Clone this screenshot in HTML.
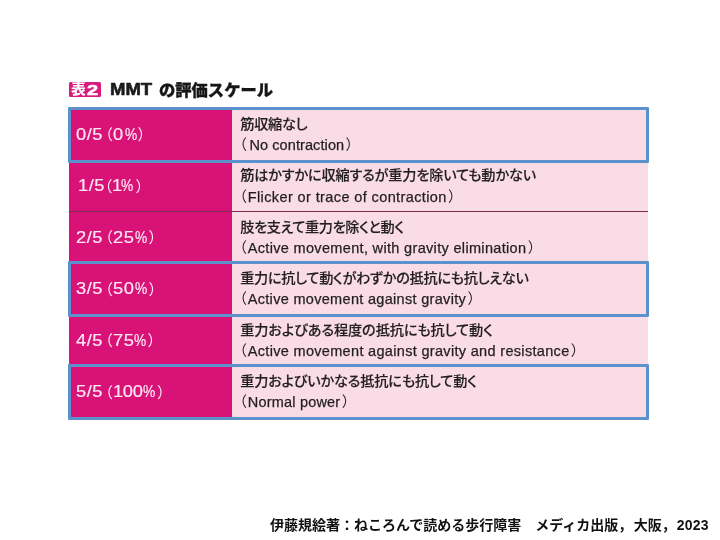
<!DOCTYPE html>
<html lang="ja">
<head>
<meta charset="utf-8">
<title>MMT の評価スケール</title>
<style>
html,body{margin:0;padding:0;background:#fff;}
body{width:720px;height:540px;position:relative;overflow:hidden;font-family:"Liberation Sans","Noto Sans CJK JP",sans-serif;color:#222;}
.abs{position:absolute;}
.badge{left:69px;top:82px;width:32px;height:15px;background:#d81b7c;border-radius:1.5px;color:#fff;}
.badge span{position:absolute;display:block;line-height:15px;white-space:nowrap;}
.b1{left:2.4px;top:-0.6px;font-family:"Noto Sans CJK JP",sans-serif;font-weight:900;font-size:13.2px;transform:scaleX(1.12);transform-origin:0 50%;}
.b2{left:17.5px;top:0px;font-weight:bold;font-size:15.5px;transform:scaleX(1.3);transform-origin:0 50%;-webkit-text-stroke:0.5px #fff;}
.t1{left:110px;top:80.2px;font-size:17px;line-height:20px;font-weight:bold;color:#1a1a1a;white-space:nowrap;letter-spacing:0px;-webkit-text-stroke:0.6px #1a1a1a;transform:scaleX(1.09);transform-origin:0 50%;}
.t2{left:159px;top:79px;font-family:"Noto Sans CJK JP",sans-serif;font-size:16.3px;line-height:20px;font-weight:900;color:#161616;white-space:nowrap;letter-spacing:0px;-webkit-text-stroke:0.3px #161616;}
.left{left:68.6px;top:108px;width:163.8px;height:311px;background:#d81277;}
.right{left:232.4px;top:108px;width:416px;height:311px;background:#f9dce6;}
.sep{left:69px;width:579px;height:1px;background:#7a2a50;}
.lab{left:0;width:232px;height:20px;color:#ffe9f3;-webkit-text-stroke:0.18px #ffe9f3;font-size:16.8px;line-height:20px;white-space:nowrap;}
.lab span{position:absolute;top:0;display:block;transform-origin:0 50%;}
.lab .d{transform:scaleX(1.09);letter-spacing:0.5px;}
.lab .pc{transform:scaleX(0.82);}
.lab .pp{font-size:15px;top:-0.5px;}
.jp{font-family:"Noto Sans CJK JP",sans-serif;font-weight:500;-webkit-text-stroke:0.15px #231f20;font-size:14.2px;line-height:20px;white-space:nowrap;color:#231f20;font-feature-settings:"palt";}
.en{-webkit-text-stroke:0.25px #231f20;font-size:14.5px;line-height:20px;white-space:nowrap;color:#231f20;}
.pp{font-family:"Noto Sans CJK JP",sans-serif;font-weight:400;-webkit-text-stroke:0;font-feature-settings:normal;letter-spacing:0;}
.en .pp{display:inline-block;width:.5em;text-indent:0;overflow:visible;}
.en .po{text-indent:-.5em;}
.lab .po{margin-left:-.5em;}
.box{border:3.3px solid #5c91cb;box-sizing:border-box;border-radius:1px;}
.foot{left:270px;top:515px;font-size:14px;line-height:20px;font-weight:bold;color:#111;white-space:nowrap;}
</style>
</head>
<body>
<div class="abs badge" id="badge"><span class="b1" id="b1">表</span><span class="b2" id="b2">2</span></div>
<div class="abs t1" id="t1">MMT</div>
<div class="abs t2" id="t2">の評価スケール</div>
<div class="abs left"></div>
<div class="abs right"></div>
<div class="abs sep" style="top:161px"></div>
<div class="abs sep" style="top:210.6px"></div>
<div class="abs sep" style="top:261.5px"></div>
<div class="abs sep" style="top:314.5px"></div>
<div class="abs sep" style="top:364.8px"></div>
<div class="abs lab" id="lab0" style="top:124.9px"><span class="d" style="left:75.9px">0/5</span><span class="pp po" style="left:105.6px">（</span><span class="d" style="left:112.5px;letter-spacing:0.5px">0</span><span class="pc" style="left:124.7px">%</span><span class="pp" style="left:137.4px">）</span></div>
<div class="abs lab" id="lab1" style="top:176.35px"><span class="d" style="left:77.5px">1/5</span><span class="pp po" style="left:104.9px">（</span><span class="d" style="left:112.4px;letter-spacing:0.5px">1</span><span class="pc" style="left:121.4px">%</span><span class="pp" style="left:135.4px">）</span></div>
<div class="abs lab" id="lab2" style="top:227.8px"><span class="d" style="left:75.9px">2/5</span><span class="pp po" style="left:105.6px">（</span><span class="d" style="left:112.5px;letter-spacing:0.5px">25</span><span class="pc" style="left:134.7px">%</span><span class="pp" style="left:148.4px">）</span></div>
<div class="abs lab" id="lab3" style="top:279.25px"><span class="d" style="left:75.9px">3/5</span><span class="pp po" style="left:105.6px">（</span><span class="d" style="left:112.5px;letter-spacing:0.5px">50</span><span class="pc" style="left:134.7px">%</span><span class="pp" style="left:148.4px">）</span></div>
<div class="abs lab" id="lab4" style="top:330.7px"><span class="d" style="left:75.9px">4/5</span><span class="pp po" style="left:105.6px">（</span><span class="d" style="left:112.5px;letter-spacing:0.5px">75</span><span class="pc" style="left:133.9px">%</span><span class="pp" style="left:147.4px">）</span></div>
<div class="abs lab" id="lab5" style="top:382.15px"><span class="d" style="left:75.9px">5/5</span><span class="pp po" style="left:105.6px">（</span><span class="d" style="left:113.2px;letter-spacing:-0.3px">100</span><span class="pc" style="left:143.0px">%</span><span class="pp" style="left:157.0px">）</span></div>
<div class="abs jp" id="jp0" style="left:240.25px;top:113.0px;letter-spacing:-0.3px">筋収縮なし</div>
<div class="abs jp" id="jp1" style="left:240.25px;top:164.45px;letter-spacing:-0.19px">筋はかすかに収縮するが重力を除いても動かない</div>
<div class="abs jp" id="jp2" style="left:240.25px;top:215.9px;letter-spacing:-0.38px">肢を支えて重力を除くと動く</div>
<div class="abs jp" id="jp3" style="left:240.25px;top:267.35px;letter-spacing:-0.32px">重力に抗して動くがわずかの抵抗にも抗しえない</div>
<div class="abs jp" id="jp4" style="left:240.25px;top:318.8px;letter-spacing:-0.12px">重力およびある程度の抵抗にも抗して動く</div>
<div class="abs jp" id="jp5" style="left:240.25px;top:370.25px;letter-spacing:-0.2px">重力およびいかなる抵抗にも抗して動く</div>
<div class="abs en" id="en0" style="left:239.7px;top:134.1px;letter-spacing:0.09px"><span class="pp po" style="margin-right:2.5px">（</span>No contraction<span class="pp" style="margin-left:1.3px">）</span></div>
<div class="abs en" id="en1" style="left:239.7px;top:185.55px;letter-spacing:0.39px"><span class="pp po" style="margin-right:0.8px">（</span>Flicker or trace of contraction<span class="pp" style="margin-left:1.3px">）</span></div>
<div class="abs en" id="en2" style="left:239.7px;top:237.0px;letter-spacing:0.33px"><span class="pp po" style="margin-right:0.8px">（</span>Active movement, with gravity elimination<span class="pp" style="margin-left:1.3px">）</span></div>
<div class="abs en" id="en3" style="left:239.7px;top:288.45px;letter-spacing:0.31px"><span class="pp po" style="margin-right:0.8px">（</span>Active movement against gravity<span class="pp" style="margin-left:1.3px">）</span></div>
<div class="abs en" id="en4" style="left:239.7px;top:339.9px;letter-spacing:0.32px"><span class="pp po" style="margin-right:0.8px">（</span>Active movement against gravity and resistance<span class="pp" style="margin-left:1.3px">）</span></div>
<div class="abs en" id="en5" style="left:239.7px;top:391.35px;letter-spacing:0.2px"><span class="pp po" style="margin-right:0.8px">（</span>Normal power<span class="pp" style="margin-left:1.3px">）</span></div>
<div class="abs box" style="left:67.8px;top:107px;width:581px;height:56px"></div>
<div class="abs box" style="left:67.8px;top:260.5px;width:581px;height:56px"></div>
<div class="abs box" style="left:67.8px;top:363.6px;width:581px;height:56.1px"></div>
<div class="abs foot">伊藤規絵著：ねころんで読める歩行障害　メディカ出版，<span style="margin-left:1.5px">大阪，</span><span style="margin-left:1px;letter-spacing:0.15px">2023</span></div>
</body>
</html>
